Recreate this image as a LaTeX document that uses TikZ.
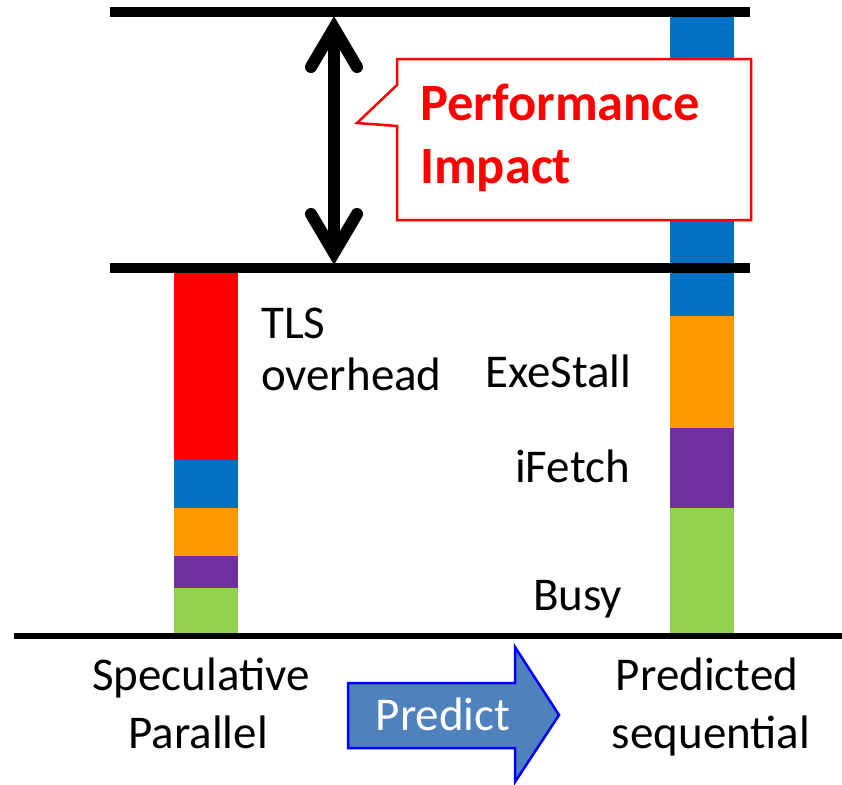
\documentclass[tikz,border=0pt]{standalone}
\usepackage{fontspec}
\setmainfont{Carlito}
\definecolor{cRed}{HTML}{FF0000}
\definecolor{cBlue}{HTML}{0070C0}
\definecolor{cOrange}{HTML}{FF9900}
\definecolor{cPurple}{HTML}{7030A0}
\definecolor{cGreen}{HTML}{92D050}
\definecolor{cArrow}{HTML}{4F81BD}
\definecolor{cArrowEdge}{HTML}{0000FF}
\begin{document}
\begin{tikzpicture}[x=1pt,y=-1pt,
  lbl/.style={inner sep=0pt, font=\fontsize{47}{52}\selectfont},
  hot/.style={inner sep=0pt, text=cRed, font=\fontsize{52.5}{62}\selectfont\bfseries},
  refline/.style={line width=10pt},
  arrowpart/.style={line width=12pt, line cap=round, line join=miter},
]
\useasboundingbox[fill=white] (0,0) rectangle (842,784);

% left bar (speculative parallel)
\fill[cRed]    (174,268) rectangle (238,460);
\fill[cBlue]   (174,460) rectangle (238,508);
\fill[cOrange] (174,508) rectangle (238,556);
\fill[cPurple] (174,556) rectangle (238,588);
\fill[cGreen]  (174,588) rectangle (238,633);

% right bar (predicted sequential)
\fill[cBlue]   (670,12) rectangle (734,316);
\fill[cOrange] (670,316) rectangle (734,428);
\fill[cPurple] (670,428) rectangle (734,508);
\fill[cGreen]  (670,508) rectangle (734,633);

% reference lines
\coordinate (t1) at (110,12);  \coordinate (t2) at (750,12);
\coordinate (m1) at (110,268); \coordinate (m2) at (750,268);
\coordinate (b1) at (14,636);  \coordinate (b2) at (842,636);
\draw[refline] (t1) -- (t2);
\draw[refline] (m1) -- (m2);
\draw[line width=6pt] (b1) -- (b2);

% double-headed arrow
\coordinate (atop) at (334,28);
\coordinate (abot) at (334,253);
\draw[line width=12pt] (atop) -- (abot);
\draw[arrowpart] (311,67) -- (atop) -- (357,67);
\draw[arrowpart] (311,214) -- (abot) -- (357,214);

% callout
\draw[draw=cRed, fill=white, line width=2.5pt, line join=miter]
  (397,59) -- (751,59) -- (751,220) -- (397,220) -- (397,126) -- (357,123) -- (397,85) -- cycle;
\node[hot, anchor=base west] (perf) at (420,120) {Performance};
\node[hot, anchor=base west] (impact) at (420,183) {Impact};

% labels
\node[lbl, anchor=base west] (tls) at (261,338) {TLS};
\node[lbl, anchor=base west] (ovh) at (261,390) {overhead};
\node[lbl, anchor=base west] (exe) at (485,387) {ExeStall};
\node[lbl, anchor=base west] (ifetch) at (515,482) {iFetch};
\node[lbl, anchor=base west] (busy) at (533,610) {Busy};

\node[lbl, anchor=base] (spec) at (201,690) {Speculative};
\node[lbl, anchor=base] (par) at (198,748) {Parallel};
\node[lbl, anchor=base] (pred) at (707,690) {Predicted};
\node[lbl, anchor=base] (seq) at (711,748) {sequential};

% predict arrow
\draw[fill=cArrow, draw=cArrowEdge, line width=2.5pt, line join=miter]
  (348,683) -- (515,683) -- (515,647) -- (559,715) -- (515,782) -- (515,748) -- (348,748) -- cycle;
\node[lbl, anchor=base, text=white] (predict) at (443,730) {Predict};
\end{tikzpicture}
\end{document}
